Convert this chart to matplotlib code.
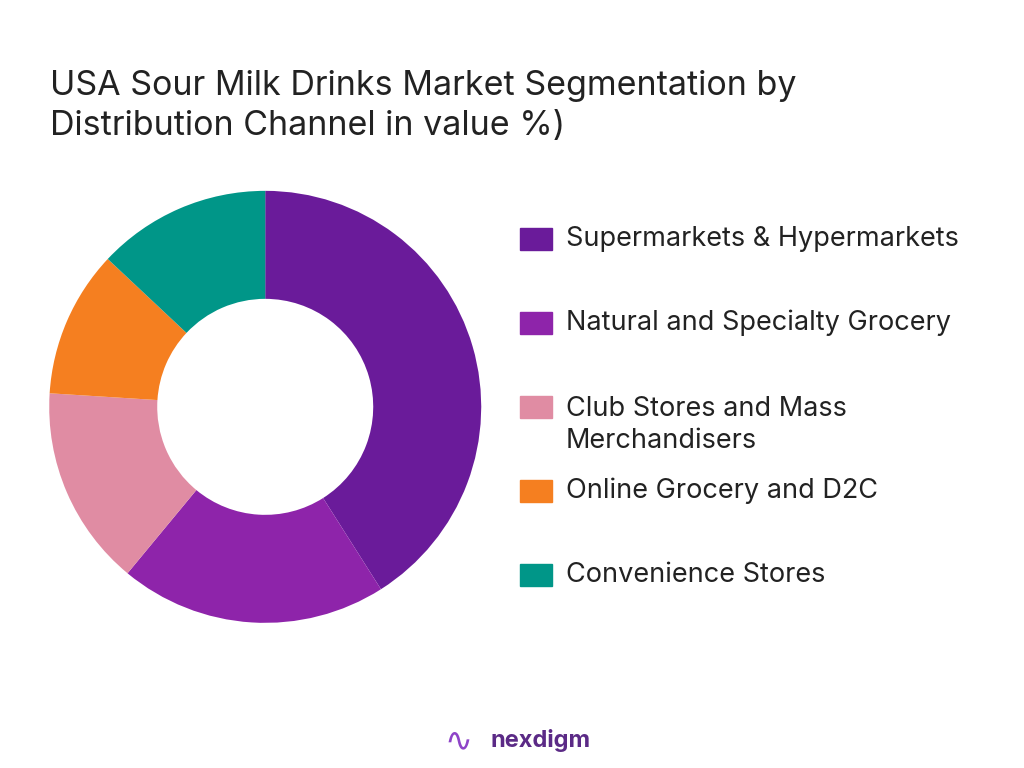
import matplotlib as mpl
mpl.use('Agg')
import matplotlib.pyplot as plt
from matplotlib.patches import Rectangle

labels = ["Supermarkets & Hypermarkets", "Natural and Specialty Grocery",
          "Club Stores and Mass\nMerchandisers", "Online Grocery and D2C",
          "Convenience Stores"]
shares = [41, 20, 15, 11, 13]
colors = ["#6A1B9A", "#8E24AA", "#E08CA3", "#F57F20", "#009688"]

plt.rcParams['font.family'] = ['Inter', 'DejaVu Sans']
fig = plt.figure(figsize=(10.24, 7.68), dpi=100)

ax = fig.add_axes([0.048, 0.189, 0.422, 0.5625])
ax.pie(shares, colors=colors, startangle=90, counterclock=False,
       wedgeprops=dict(width=0.5, edgecolor='none'))
ax.set_xlim(-1, 1)
ax.set_ylim(-1, 1)
ax.set_aspect('equal')

fig.text(50/1024, 1 - 106/768, "USA Sour Milk Drinks Market Segmentation by\nDistribution Channel in value %)",
         fontsize=24.5, va='center', ha='left', color='#222222', linespacing=1.3)

ys = [239, 323, 407, 491, 575]
for lab, c, y in zip(labels, colors, ys):
    fig.patches.append(Rectangle((520/1024, 1 - (y + 11)/768), 32/1024, 22/768,
                                 transform=fig.transFigure, color=c))
    if '\n' in lab:
        fig.text(566/1024, 1 - 425/768, lab, fontsize=19.5, va='center', ha='left',
                 color='#222222', linespacing=1.35)
    else:
        fig.text(566/1024, 1 - y/768, lab, fontsize=19.5, va='center', ha='left',
                 color='#222222')

fig.text(490/1024, 1 - 741/768, "nexdigm", fontsize=17, fontweight='bold',
         color='#5B2A86', ha='left', va='center')
fig.text(458/1024, 1 - 741/768, "\u223F", fontsize=24, color='#8E44C8', ha='center', va='center')

fig.savefig("out.png", dpi=100)
